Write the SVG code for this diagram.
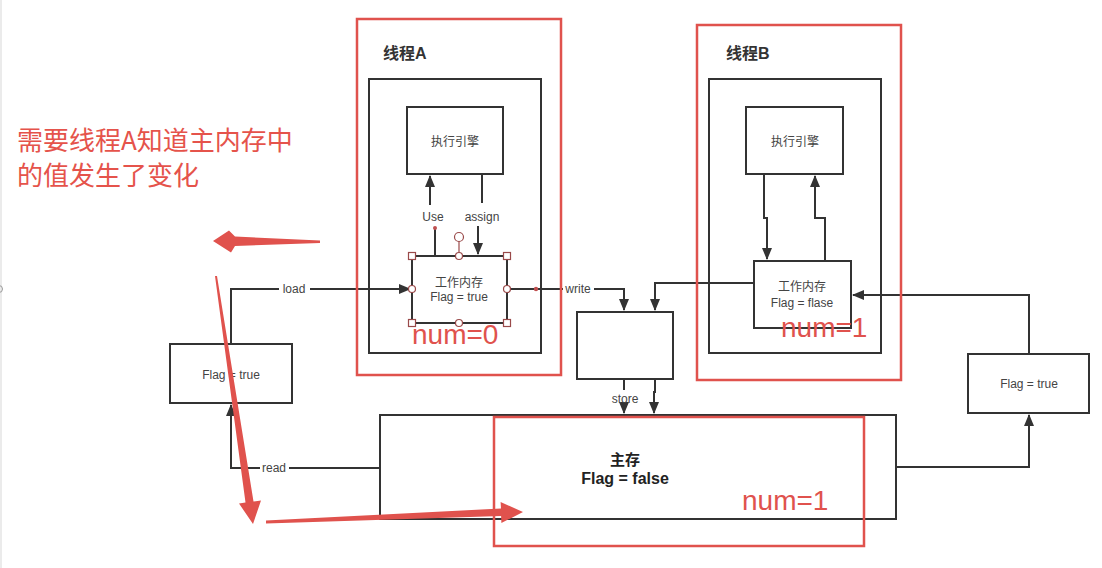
<svg xmlns="http://www.w3.org/2000/svg" width="1102" height="568" viewBox="0 0 1102 568">
<defs>
<style>
.box{fill:#fff;stroke:#333;stroke-width:2}
.bx{fill:none;stroke:#333;stroke-width:2}
.red{fill:none;stroke:#e0524d;stroke-width:2.5}
.ln{fill:none;stroke:#333;stroke-width:2}
.t{font-family:"Liberation Sans","Noto Sans CJK SC",sans-serif;font-size:12px;fill:#444;text-anchor:middle}
.lb{font-family:"Liberation Sans","Noto Sans CJK SC",sans-serif;font-size:12px;fill:#444;text-anchor:middle}
.ttl{font-family:"Liberation Sans","Noto Sans CJK SC",sans-serif;font-size:16px;font-weight:bold;fill:#333}
.num{font-family:"Liberation Sans",sans-serif;font-size:28px;fill:#e0524d}
.ann{font-family:"Noto Sans CJK SC",sans-serif;font-size:26px;fill:#e5534b}
.hs{fill:#fff;stroke:#9a4a4a;stroke-width:1.2}
.ra{fill:#e0524d}
</style>
<marker id="ah" markerWidth="12" markerHeight="10" refX="11" refY="5" orient="auto" markerUnits="userSpaceOnUse">
<path d="M0,0 L12,5 L0,10 Z" fill="#333"/>
</marker>
</defs>
<rect width="1102" height="568" fill="#fff"/>
<line x1="1" y1="0" x2="1" y2="568" stroke="#e4e4e4" stroke-width="1.5"/>
<circle cx="-1" cy="289" r="3.5" fill="none" stroke="#999" stroke-width="1"/>

<g id="connectors">
<path class="ln" d="M435,255 V229" stroke="#444"/>
<path class="ln" d="M430,205 V176" marker-end="url(#ah)"/>
<path class="ln" d="M482,174 V203"/>
<path class="ln" d="M478,226 V254" marker-end="url(#ah)"/>
<path class="ln" d="M764,174 V218 H767 V259" marker-end="url(#ah)"/>
<path class="ln" d="M825,261 V218 H815 V176" marker-end="url(#ah)"/>
<path class="ln" d="M231,344 V289 H410" marker-end="url(#ah)"/>
<path class="ln" d="M380,468 H231 V405" marker-end="url(#ah)"/>
<path class="ln" d="M507,289 H624 V310" marker-end="url(#ah)"/>
<path class="ln" d="M754,283 H655 V310" marker-end="url(#ah)"/>
<path class="ln" d="M624,379 V390"/>
<path class="ln" d="M624,407 V413" marker-end="url(#ah)"/>
<path class="ln" d="M655,379 V392 H654 V413" marker-end="url(#ah)"/>
<path class="ln" d="M896,467 H1029 V415" marker-end="url(#ah)"/>
<path class="ln" d="M1029,354 V295 H853" marker-end="url(#ah)"/>
<rect x="279" y="281" width="31" height="16" fill="#fff"/>
<text class="lb" x="294" y="293">load</text>
<rect x="260" y="460" width="29" height="16" fill="#fff"/>
<text class="lb" x="274" y="472">read</text>
<rect x="563" y="281" width="31" height="16" fill="#fff"/>
<text class="lb" x="578" y="293">write</text>
<text class="lb" x="625" y="403">store</text>
<text class="lb" x="433" y="221">Use</text>
<text class="lb" x="482" y="221">assign</text>
<circle cx="435" cy="228" r="2" fill="#c05050"/>
<circle cx="536" cy="289" r="2.2" fill="#c05050"/>
</g>

<g id="threadA">
<rect class="red" x="357" y="19" width="204" height="356"/>
<text class="ttl" x="383" y="59">线程A</text>
<rect class="bx" x="369" y="79" width="172" height="274"/>
</g>
<g id="engineA">
<rect class="box" x="407" y="107" width="96" height="67"/>
<text class="t" x="455" y="146">执行引擎</text>
</g>
<g id="workA">
<rect class="box" x="412" y="256" width="95" height="67"/>
<text class="t" x="459" y="287">工作内存</text>
<text class="t" x="459" y="301">Flag = true</text>
<line x1="459" y1="256" x2="459" y2="241" stroke="#9a4a4a" stroke-width="1.2"/>
<circle class="hs" cx="459" cy="237" r="4.5"/>
<rect class="hs" x="408.5" y="252.5" width="7" height="7"/>
<rect class="hs" x="503.5" y="252.5" width="7" height="7"/>
<rect class="hs" x="408.5" y="319.5" width="7" height="7"/>
<rect class="hs" x="503.5" y="319.5" width="7" height="7"/>
<circle class="hs" cx="459" cy="256" r="3.5"/>
<circle class="hs" cx="459" cy="323" r="3.5"/>
<circle class="hs" cx="412" cy="289" r="3.5"/>
<circle class="hs" cx="507" cy="289" r="3.5"/>
<text class="num" x="412" y="344">num=0</text>
</g>

<g id="threadB">
<rect class="red" x="697" y="25" width="204" height="355"/>
<text class="ttl" x="726" y="59">线程B</text>
<rect class="bx" x="709" y="79" width="172" height="274"/>
</g>
<g id="engineB">
<rect class="box" x="746" y="107" width="97" height="67"/>
<text class="t" x="795" y="146">执行引擎</text>
</g>
<g id="workB">
<rect class="box" x="754" y="261" width="97" height="67"/>
<text class="t" x="802" y="291">工作内存</text>
<text class="t" x="802" y="307">Flag = flase</text>
<text class="num" x="781" y="337">num=1</text>
</g>

<g id="writeBox">
<rect class="box" x="577" y="312" width="96" height="67"/>
</g>

<g id="leftFlag">
<rect class="box" x="170" y="344" width="122" height="59"/>
<text class="t" x="231" y="379">Flag = true</text>
</g>
<g id="rightFlag">
<rect class="box" x="968" y="354" width="121" height="59"/>
<text class="t" x="1029" y="388">Flag = true</text>
</g>

<g id="mainMemory">
<rect class="box" x="380" y="415" width="516" height="104"/>
<rect class="red" x="494" y="417" width="370" height="129"/>
<text x="625" y="465" font-family="Liberation Sans,'Noto Sans CJK SC',sans-serif" font-size="15" font-weight="bold" fill="#222" text-anchor="middle">主存</text>
<text x="625" y="484" font-family="Liberation Sans,'Noto Sans CJK SC',sans-serif" font-size="16" font-weight="bold" fill="#222" text-anchor="middle">Flag = false</text>
<text class="num" x="742" y="510">num=1</text>
</g>

<g id="annotation">
<text class="ann" x="17" y="150">需要线程A知道主内存中</text>
<text class="ann" x="17" y="185">的值发生了变化</text>
<polygon class="ra" points="320,240.5 235,236.5 229,230.5 213,241 231,252.5 235,246 320,243"/>
<polygon class="ra" points="215,276 217,276 253.5,501.5 261,500.5 253,524 239,503.5 245.5,502.5"/>
<polygon class="ra" points="266,520.5 501,508.5 500.6,502 523,512 501.4,523 501.1,516 266,523.5"/>
</g>
</svg>
